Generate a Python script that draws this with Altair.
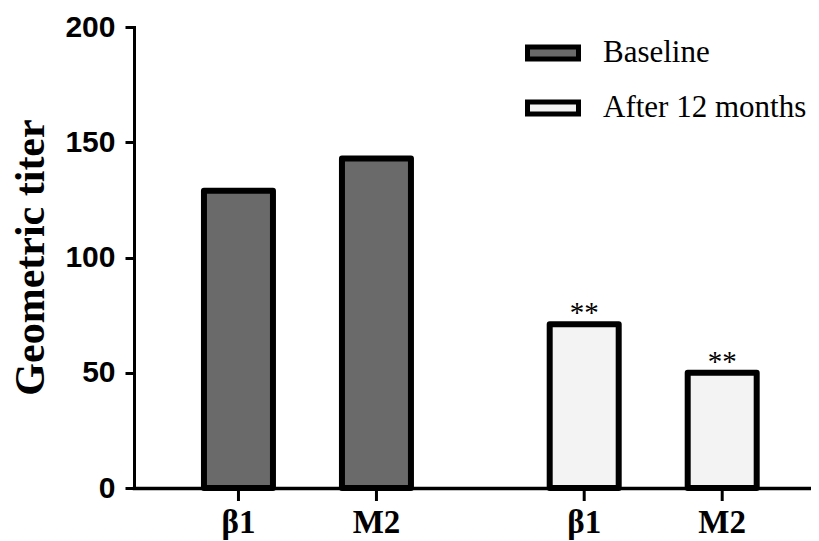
import altair as alt
import pandas as pd

periods = ["Baseline", "Baseline", "After 12 months", "After 12 months"]
antigens = ["β1", "M2", "β1", "M2"]
titers = [129, 143, 71, 50]
signif = ["", "", "**", "**"]
y_ticks = [0, 50, 100, 150, 200]
period_order = ["Baseline", "After 12 months"]
antigen_order = ["β1", "M2"]

df = pd.DataFrame({"period": periods, "antigen": antigens, "titer": titers, "sig": signif})

W, H = 677, 461

x_enc = alt.X("period:N", sort=period_order,
              scale=alt.Scale(paddingInner=0.4013, paddingOuter=0.1797, align=0.563),
              axis=alt.Axis(labels=False, ticks=False, title=None, domainWidth=3.5,
                            domainColor="black", domainCap="square"))
xo_enc = alt.XOffset("antigen:N", sort=antigen_order,
                     scale=alt.Scale(paddingInner=0.5, paddingOuter=0))

bars = alt.Chart(df).mark_bar(stroke="black", strokeWidth=6, strokeJoin="round").encode(
    x=x_enc,
    xOffset=xo_enc,
    y=alt.Y("titer:Q", scale=alt.Scale(domain=[0, 200], nice=False),
            axis=alt.Axis(values=y_ticks, tickSize=9, tickWidth=3, tickColor="black",
                          domainWidth=3, domainColor="black", domainCap="square",
                          labelFont="Liberation Sans", labelFontWeight="bold",
                          labelFontSize=30, labelColor="black", labelPadding=10,
                          grid=False, title="Geometric titer",
                          titleFont="Liberation Serif", titleFontSize=42,
                          titleFontWeight="bold", titleColor="black",
                          titleX=-104, titleY=230, titleAngle=270,
                          titleBaseline="middle", titleAlign="center")),
    fill=alt.Fill("period:N", sort=period_order,
                  scale=alt.Scale(domain=period_order, range=["#6a6a6a", "#f3f3f3"]),
                  legend=alt.Legend(title=None, orient="none", legendX=391, legendY=-2,
                                    symbolType="M-1,-0.24H1V0.24H-1Z", symbolSize=2600,
                                    symbolStrokeColor="black", symbolStrokeWidth=5,
                                    labelFont="Liberation Serif", labelFontSize=31,
                                    labelColor="black", labelOffset=22, rowPadding=10,
                                    labelLimit=0, padding=0)),
)

stars = alt.Chart(df).mark_text(font="Liberation Serif", fontSize=29, baseline="alphabetic",
                                dy=-2, color="black").encode(
    x=alt.X("period:N", sort=period_order),
    xOffset=alt.XOffset("antigen:N", sort=antigen_order),
    y="titer:Q",
    text="sig:N",
)

xticks = alt.Chart(df).mark_rule(color="black", strokeWidth=3).encode(
    x=alt.X("period:N", sort=period_order),
    xOffset=alt.XOffset("antigen:N", sort=antigen_order),
    y=alt.value(H),
    y2=alt.value(H + 13),
)

xlabels = alt.Chart(df).mark_text(font="Liberation Serif", fontWeight="bold", fontSize=33,
                                  baseline="alphabetic", color="black").encode(
    x=alt.X("period:N", sort=period_order),
    xOffset=alt.XOffset("antigen:N", sort=antigen_order),
    y=alt.value(H + 45),
    text="antigen:N",
)

chart = alt.layer(bars, stars, xticks, xlabels).properties(
    width=W, height=H,
    autosize=alt.AutoSizeParams(type="none"),
    padding={"left": 126, "top": 19, "right": 0, "bottom": 52},
).configure_view(strokeWidth=0)

chart.save("out.html", embed_options={"renderer": "svg", "actions": False})
